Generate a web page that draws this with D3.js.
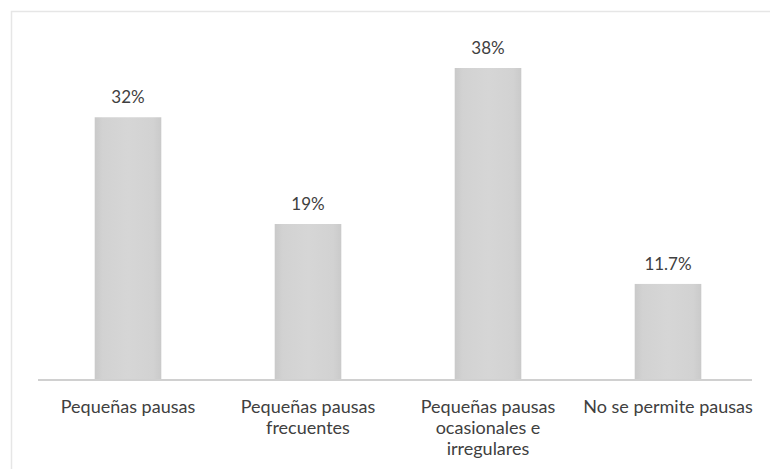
<!DOCTYPE html>
<html>
<head>
<meta charset="utf-8">
<script src="https://cdn.jsdelivr.net/npm/d3@7"></script>
<style>
  html, body { margin: 0; padding: 0; background: #fff; }
  svg { display: block; }
</style>
</head>
<body>
<svg id="chart" width="770" height="469"></svg>
<script>
// Categories (each entry is split into display lines) and percentage values
const categories = [
  ["Pequeñas pausas"],
  ["Pequeñas pausas", "frecuentes"],
  ["Pequeñas pausas", "ocasionales e", "irregulares"],
  ["No se permite pausas"]
];
const values = [32, 19, 38, 11.7];
const valueLabels = ["32%", "19%", "38%", "11.7%"];

const svg = d3.select("#chart");
const W = 770, H = 469;
const font = "Lato, 'Open Sans', sans-serif";

// Outer frame (top and left edges of the chart area)
svg.append("path")
  .attr("d", `M11.5,${H} V11.5 H${W}`)
  .attr("fill", "none")
  .attr("stroke", "#e6e6e6")
  .attr("stroke-width", 1.5);

const x = d3.scaleBand()
  .domain(d3.range(categories.length))
  .range([38, 758])
  .paddingInner(0.63)
  .paddingOuter(0.315);

const y = d3.scaleLinear()
  .domain([0, 38])
  .range([380, 68]);

// Soft horizontal shading across each bar
const defs = svg.append("defs");
const grad = defs.append("linearGradient").attr("id", "barGrad")
  .attr("x1", "0%").attr("x2", "100%").attr("y1", "0%").attr("y2", "0%");
grad.append("stop").attr("offset", "0%").attr("stop-color", "#c9c9c9");
grad.append("stop").attr("offset", "12%").attr("stop-color", "#d2d2d2");
grad.append("stop").attr("offset", "50%").attr("stop-color", "#d6d6d6");
grad.append("stop").attr("offset", "88%").attr("stop-color", "#d2d2d2");
grad.append("stop").attr("offset", "100%").attr("stop-color", "#cacaca");

svg.append("g").selectAll("rect")
  .data(values)
  .join("rect")
  .attr("x", (d, i) => x(i))
  .attr("y", d => y(d))
  .attr("width", x.bandwidth())
  .attr("height", d => y(0) - y(d))
  .attr("fill", "url(#barGrad)");

// Value labels above the bars
svg.append("g").selectAll("text")
  .data(values)
  .join("text")
  .attr("x", (d, i) => x(i) + x.bandwidth() / 2)
  .attr("y", d => y(d) - 14)
  .attr("text-anchor", "middle")
  .attr("font-family", font)
  .attr("font-size", 17)
  .attr("fill", "#404040")
  .text((d, i) => valueLabels[i]);

// Baseline axis
const axis = d3.axisBottom(x).tickSize(0).tickFormat("");
const gx = svg.append("g").attr("transform", "translate(0,380)").call(axis);
gx.select(".domain").attr("stroke", "#d0d0d0").attr("stroke-width", 2)
  .attr("d", "M38,0 H752");

// Category labels, wrapped onto several lines
const lab = svg.append("g").selectAll("text")
  .data(categories)
  .join("text")
  .attr("x", (d, i) => x(i) + x.bandwidth() / 2)
  .attr("y", 413)
  .attr("text-anchor", "middle")
  .attr("font-family", font)
  .attr("font-size", 18)
  .attr("fill", "#404040");
lab.selectAll("tspan")
  .data(d => d)
  .join("tspan")
  .attr("x", function() { return this.parentNode.getAttribute("x"); })
  .attr("dy", (d, j) => j === 0 ? 0 : 21)
  .text(d => d);
</script>
</body>
</html>
